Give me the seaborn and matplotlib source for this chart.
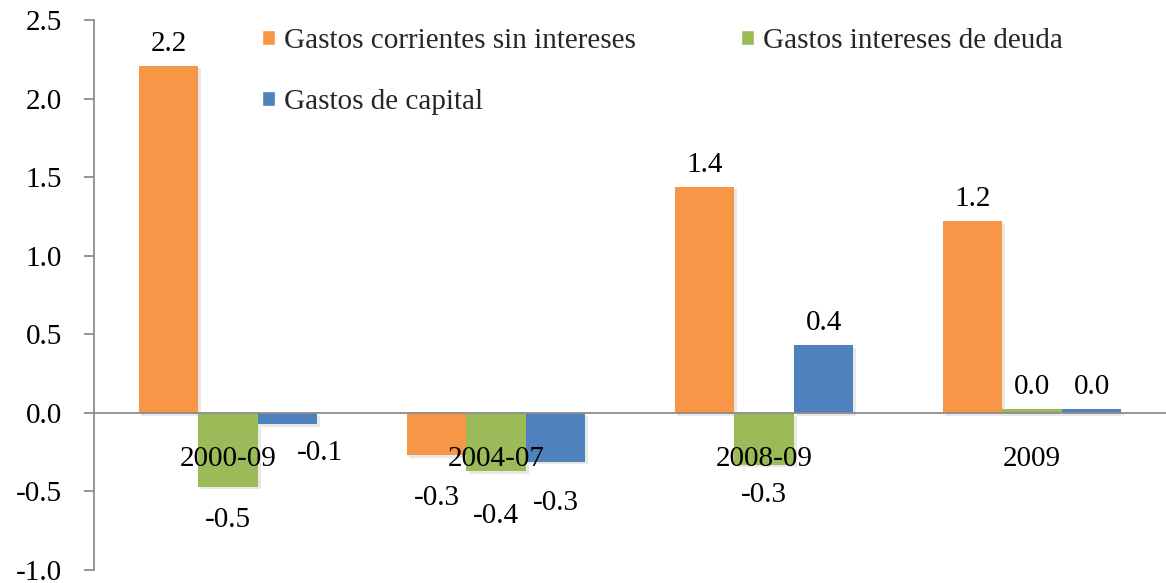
import matplotlib
matplotlib.use("Agg")
import matplotlib.pyplot as plt
import matplotlib.patheffects as pe
from matplotlib.patches import Patch
import seaborn as sns
import pandas as pd

# ---- data ----
categories = ["2000-09", "2004-07", "2008-09", "2009"]
series = ["Gastos corrientes sin intereses", "Gastos intereses de deuda", "Gastos de capital"]
corrientes = [2.21, -0.27, 1.44, 1.22]
intereses = [-0.47, -0.37, -0.33, 0.025]
capital = [-0.07, -0.31, 0.43, 0.025]
y_ticks = [-1.0, -0.5, 0.0, 0.5, 1.0, 1.5, 2.0, 2.5]

colors = ["#F79646", "#9BBB59", "#4F81BD"]

values = {series[0]: corrientes, series[1]: intereses, series[2]: capital}
df = pd.DataFrame(
    [(c, s, values[s][i]) for s in series for i, c in enumerate(categories)],
    columns=["Periodo", "Serie", "Valor"],
)

# manual label nudges (pixels: dx right, dy up) mimicking the original label placement
label_nudge = {
    ("2000-09", series[2]): (32, 4),
    ("2004-07", series[0]): (0, -10),
    ("2004-07", series[1]): (0, -12),
    ("2004-07", series[2]): (0, -8),
    ("2008-09", series[1]): (0, 3),
}

sns.set_theme(style="white")
plt.rcParams["font.family"] = ["Liberation Serif", "DejaVu Serif"]
FS = 21

W, H = 1166, 583
fig = plt.figure(figsize=(W / 100, H / 100), dpi=100)
left_px, top_px, bottom_px = 94, 20, 570
ax = fig.add_axes([left_px / W, (H - bottom_px) / H, 1 - left_px / W, (bottom_px - top_px) / H])

sns.barplot(
    data=df, x="Periodo", y="Valor", hue="Serie",
    order=categories, hue_order=series, palette=colors,
    width=0.667, gap=0, saturation=1, errorbar=None, legend=False, ax=ax,
)

shadow = [pe.SimplePatchShadow(offset=(2, -2), shadow_rgbFace="#999999", alpha=0.22), pe.Normal()]
for cont in ax.containers:
    for b in cont:
        b.set_path_effects(shadow)
        b.set_edgecolor("none")

px2pt = 0.72
for s, cont in zip(series, ax.containers):
    for i, b in enumerate(cont):
        v = values[s][i]
        cx = b.get_x() + b.get_width() / 2
        dx, dy = label_nudge.get((categories[i], s), (0, 0))
        off = (15 + dy) if v >= 0 else (-40 + dy)
        ax.annotate(f"{v:.1f}", (cx, v), xytext=(dx * px2pt, off * px2pt),
                    textcoords="offset points", ha="center", va="baseline",
                    fontsize=FS, color="black", zorder=5)

spine_c = "#8c8c8c"
for sp in ["top", "right"]:
    ax.spines[sp].set_visible(False)
ax.spines["bottom"].set_position(("data", 0))
ax.spines["bottom"].set_color(spine_c)
ax.spines["bottom"].set_linewidth(1.3)
ax.spines["left"].set_color(spine_c)
ax.spines["left"].set_linewidth(1.3)
ax.grid(False)
ax.set_axisbelow(False)

ax.set_ylim(-1.0, 2.5)
ax.set_xlim(-0.5, -0.5 + (W - left_px) / 272)
ax.set_yticks(y_ticks, labels=[f"{t:.1f}" for t in y_ticks])
ax.set_xticks([0.5, 1.5, 2.5, 3.5], minor=True)
ax.set_xticks(range(len(categories)), labels=categories)
ax.tick_params(axis="x", which="major", length=0, pad=24, labelsize=FS, labelcolor="black")
ax.tick_params(axis="x", which="minor", length=6, width=1.3, color=spine_c, direction="out")
ax.tick_params(axis="y", which="major", length=7, width=1.3, color=spine_c, direction="out", pad=16,
               left=True, labelsize=FS, labelcolor="black")
ax.set_xlabel("")
ax.set_ylabel("")

handles = [Patch(facecolor=colors[0]), Patch(facecolor=colors[2]), Patch(facecolor=colors[1])]
labels = [series[0], series[2], series[1]]
fig.legend(handles, labels, ncol=2, loc="upper left", bbox_to_anchor=(262 / W, 1 - 28 / H),
           frameon=False, fontsize=FS, borderpad=0, borderaxespad=0,
           handlelength=0.45, handleheight=0.45, handletextpad=0.3,
           labelspacing=1.2, columnspacing=3.6)

fig.savefig("out.png", dpi=100)
